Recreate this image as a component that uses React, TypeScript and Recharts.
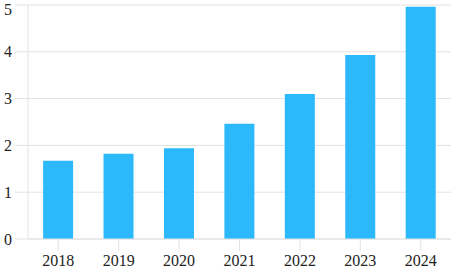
import React from "react"
import { BarChart, Bar, XAxis, YAxis, CartesianGrid } from "recharts"

const years = ["2018", "2019", "2020", "2021", "2022", "2023", "2024"]
const values = [1.67, 1.82, 1.94, 2.46, 3.1, 3.93, 4.96]
const yTicks = [0, 1, 2, 3, 4, 5]

const data = years.map((year, i) => ({ year, value: values[i] }))

const GRID = "#e2e2e2"
const BAR = "#2bb9fb"
const FONT = { fill: "#222", fontSize: 16, fontFamily: "'Liberation Serif', serif" }

export default function App() {
  return (
    <div style={{ position: "absolute", left: 0, top: 0, width: 451, height: 269 }}>
      <style>{"body{margin:0}"}</style>
      <BarChart
        width={451}
        height={269}
        data={data}
        margin={{ top: 5, right: 0, left: 0, bottom: 0 }}
        barCategoryGap="25%"
      >
        <CartesianGrid vertical={false} stroke={GRID} />
        <XAxis
          dataKey="year"
          height={30}
          axisLine={{ stroke: GRID }}
          tickLine={{ stroke: GRID }}
          tickSize={12}
          tickMargin={4}
          tick={FONT}
        />
        <YAxis
          width={28}
          domain={[0, 5]}
          ticks={yTicks}
          axisLine={{ stroke: GRID }}
          tickLine={{ stroke: GRID }}
          tickSize={13}
          tickMargin={3}
          tick={FONT}
        />
        <Bar dataKey="value" fill={BAR} isAnimationActive={false} />
      </BarChart>
    </div>
  )
}
